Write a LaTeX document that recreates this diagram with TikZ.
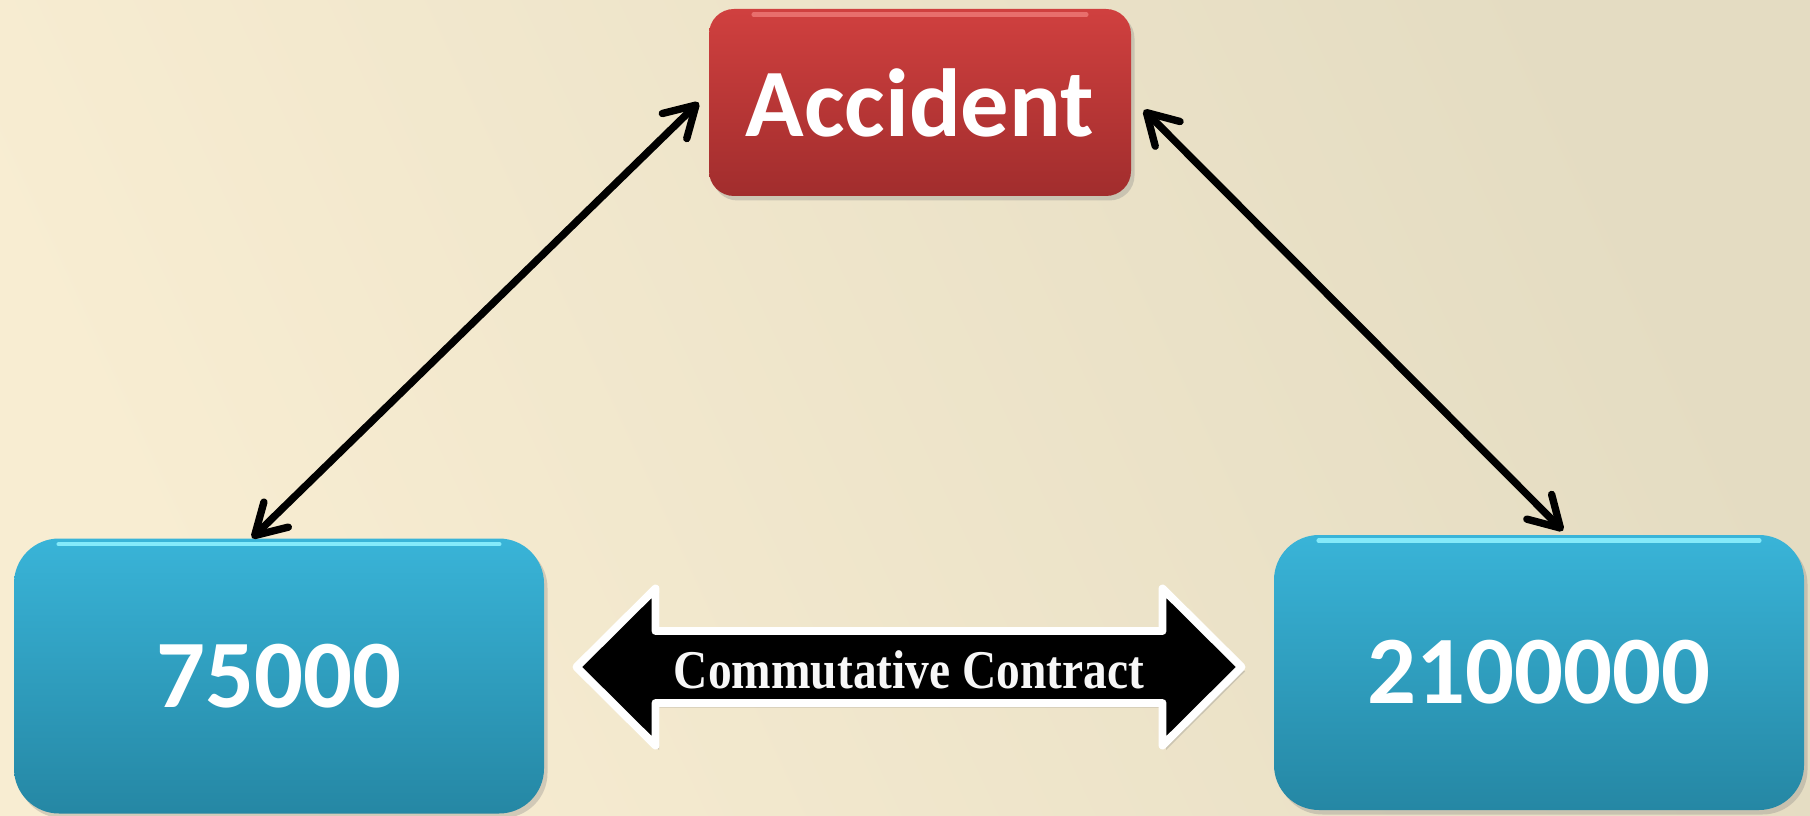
\documentclass[tikz,border=0pt]{standalone}
\usepackage{fontspec}
\setmainfont{Liberation Serif}
\newfontfamily\boxfont{Carlito}
\usepackage{tikz}
\usetikzlibrary{arrows.meta,calc,shadows}
\usetikzlibrary{positioning}

\definecolor{bgtop}{RGB}{248,237,210}
\definecolor{bgbot}{RGB}{228,220,194}
\definecolor{redtop}{RGB}{208,64,63}
\definecolor{redbot}{RGB}{161,45,45}
\definecolor{bluetop}{RGB}{57,180,216}
\definecolor{bluebot}{RGB}{37,135,164}
\definecolor{gloss}{RGB}{132,234,250}
\definecolor{redgloss}{RGB}{232,110,108}

\begin{document}
\begin{tikzpicture}[>={Straight Barb[length=0.6cm,width=0.7cm,round]},
  shade box/.style={drop shadow={opacity=0.3,shadow xshift=0.07cm,shadow yshift=-0.09cm}},
  amount/.style={shade box,rounded corners=0.9cm,minimum width=10.6cm,minimum height=5.5cm,
    top color=bluetop,bottom color=bluebot,text=white,font=\boxfont\bfseries\fontsize{55}{60}\selectfont},
  event/.style={shade box,rounded corners=0.5cm,minimum width=8.44cm,minimum height=3.74cm,
    top color=redtop,bottom color=redbot,text=white,font=\boxfont\bfseries\fontsize{55}{60}\selectfont},
  link/.style={<->,line width=4.2pt,line cap=round}]
  \useasboundingbox (0,0) rectangle (36.2,16.3);
  \shade[left color=bgtop,right color=bgbot,shading angle=115] (0,0) rectangle (36.2,16.3);

  \node[event] (acc) at (18.4,14.25) {Accident};
  \node[amount] (low) at (5.58,2.78) {75000};
  \node[amount] (high) at (30.78,2.85) {2100000};
  \foreach \b/\g in {acc/redgloss,low/gloss,high/gloss}
    \draw[\g,line width=2.5pt,line cap=round]
      ([xshift=0.9cm,yshift=-0.12cm]\b.north west) -- ([xshift=-0.9cm,yshift=-0.12cm]\b.north east);

  \draw[link] ([xshift=-0.54cm]low.north) -- ([xshift=-0.2cm]acc.west);
  \draw[link] ([xshift=0.25cm,yshift=-0.15cm]acc.east) -- ([xshift=0.48cm,yshift=0.08cm]high.north);

  \coordinate (ctr) at (18.18,2.96);
  \draw[white,line width=4.5pt,line join=round,fill=black,shade box]
    ($(ctr)+(-6.65,0)$) -- ($(ctr)+(-5.07,1.57)$) -- ($(ctr)+(-5.07,0.72)$)
    -- ($(ctr)+(5.07,0.72)$) -- ($(ctr)+(5.07,1.57)$) -- ($(ctr)+(6.65,0)$)
    -- ($(ctr)+(5.07,-1.57)$) -- ($(ctr)+(5.07,-0.72)$) -- ($(ctr)+(-5.07,-0.72)$)
    -- ($(ctr)+(-5.07,-1.57)$) -- cycle;
  \node[text=gray!6,font=\bfseries\fontsize{27}{30}\selectfont] (contract) at ($(ctr)+(0,-0.06)$)
    {\scalebox{1}[1.15]{Commutative Contract}};
\end{tikzpicture}
\end{document}
